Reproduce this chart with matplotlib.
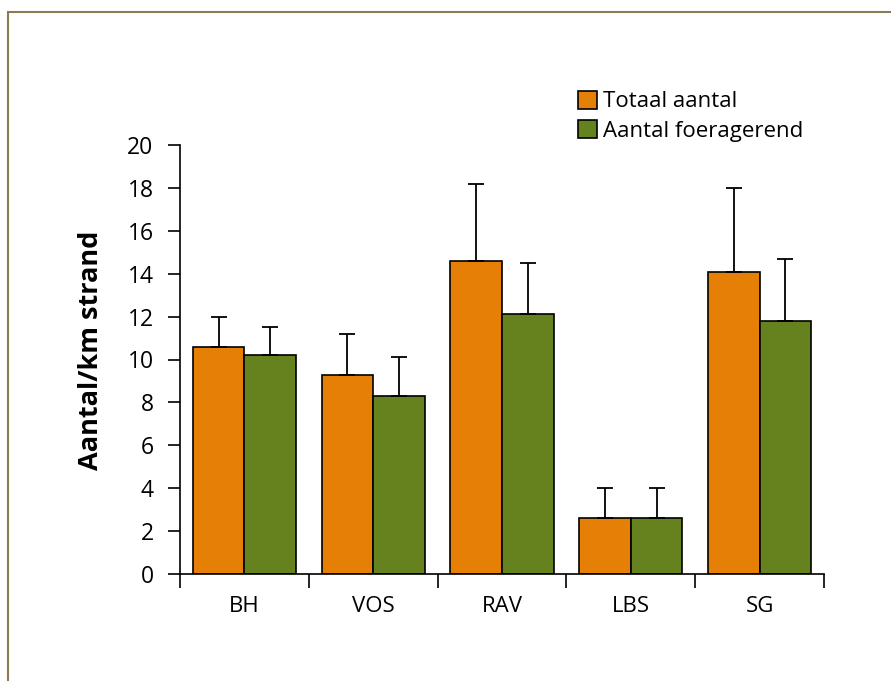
import matplotlib.pyplot as plt
import matplotlib.patches as mpatches
import numpy as np

plt.rcParams['font.family'] = ['Open Sans', 'DejaVu Sans']

# dati
gebieden = ['BH', 'VOS', 'RAV', 'LBS', 'SG']
totaal = [10.6, 9.3, 14.6, 2.6, 14.1]
totaal_err = [1.4, 1.9, 3.6, 1.4, 3.9]
foerageer = [10.2, 8.3, 12.1, 2.6, 11.8]
foerageer_err = [1.3, 1.8, 2.4, 1.4, 2.9]

kleur_oranje = '#e57f05'
kleur_groen = '#65821e'

fig = plt.figure(figsize=(8.91, 6.81), dpi=100)
ax = fig.add_axes([180 / 891, 1 - 574 / 681, 644 / 891, 429 / 681])

# cornice marrone attorno alla figura
cornice = mpatches.Rectangle((8 / 891, -0.05), 1.1, 1 - 12 / 681 + 0.05,
                             transform=fig.transFigure, fill=False,
                             edgecolor='#8c7a55', linewidth=1.5, clip_on=False)
fig.patches.append(cornice)

x = np.arange(len(gebieden))
w = 0.4
err_style = dict(ecolor='black', elinewidth=1.3, capsize=6, capthick=1.3)
ax.bar(x - w / 2, totaal, w, color=kleur_oranje, edgecolor='black', linewidth=1.2,
       yerr=[np.zeros(len(totaal)), totaal_err], error_kw=err_style,
       label='Totaal aantal', zorder=2)
ax.bar(x + w / 2, foerageer, w, color=kleur_groen, edgecolor='black', linewidth=1.2,
       yerr=[np.zeros(len(foerageer)), foerageer_err], error_kw=err_style,
       label='Aantal foeragerend', zorder=2)

ax.set_xlim(-0.5, len(gebieden) - 0.5)
ax.set_ylim(0, 20)
ax.set_yticks(np.arange(0, 21, 2))
ax.set_yticklabels([str(v) for v in range(0, 21, 2)], fontsize=16.5)
ax.tick_params(axis='y', direction='out', length=9, width=1.2, pad=10)

# tacche tra le categorie, etichette al centro
ax.set_xticks(np.arange(-0.5, len(gebieden), 1))
ax.set_xticklabels([])
ax.set_xticks(x, minor=True)
ax.set_xticklabels(gebieden, minor=True, fontsize=16)
ax.tick_params(axis='x', which='major', direction='out', length=10, width=1.2)
ax.tick_params(axis='x', which='minor', length=0, pad=16)

for lato in ['top', 'right']:
    ax.spines[lato].set_visible(False)
for lato in ['left', 'bottom']:
    ax.spines[lato].set_linewidth(1.2)

ax.set_ylabel('Aantal/km strand', fontsize=19.5, fontweight='bold')
ax.yaxis.set_label_coords(-0.118, 0.522)

ax.legend(loc='upper left', bbox_to_anchor=(389 / 644, 1 + 63 / 429), frameon=False,
          fontsize=16, handlelength=0.85, handleheight=0.85, handletextpad=0.3,
          labelspacing=0.35, borderaxespad=0)

plt.savefig('out.png', dpi=100)
